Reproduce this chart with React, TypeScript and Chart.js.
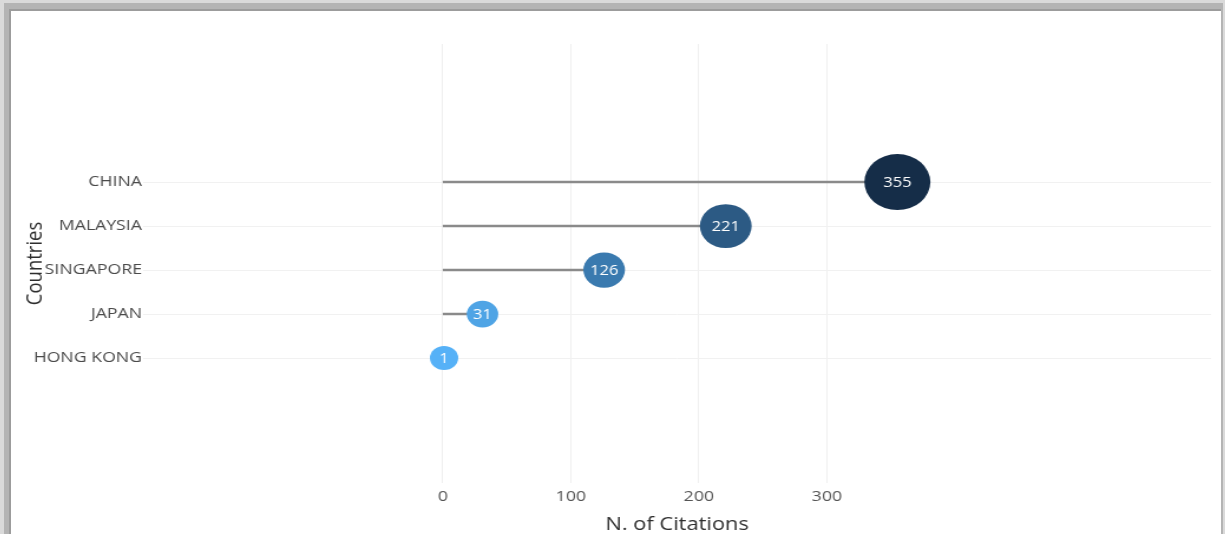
import React, { useEffect, useRef } from "react";
import { Chart, registerables } from "chart.js";

Chart.register(...registerables);

// ---- data ----
const COUNTRIES = ["HONG KONG", "JAPAN", "SINGAPORE", "MALAYSIA", "CHINA"];
const CITATIONS = [1, 31, 126, 221, 355];
const X_TICKS = [0, 100, 200, 300];
const Y_TITLE = "Countries";
const X_TITLE = "N. of Citations";

// ---- styles ----
const BUBBLE_COLORS = ["#56B1F7", "#4FA4E5", "#3A7AAF", "#2C5A84", "#152D48"];
const STRETCH = 1.18;
const CANVAS_W = 1025;
const CANVAS_H = 523;
const FONT = "'Open Sans', 'DejaVu Sans', sans-serif";

const minV = Math.min(...CITATIONS);
const maxV = Math.max(...CITATIONS);
const radiusFor = (v: number) => 12 + (16 * (v - minV)) / (maxV - minV);

const labelPlugin = {
  id: "bubbleLabels",
  afterDatasetsDraw(chart: any) {
    const meta = chart.getDatasetMeta(0);
    const ctx = chart.ctx;
    ctx.save();
    ctx.fillStyle = "#ffffff";
    ctx.font = `14px ${FONT}`;
    ctx.textAlign = "center";
    ctx.textBaseline = "middle";
    meta.data.forEach((el: any, i: number) => {
      ctx.fillText(String(CITATIONS[i]), el.x, el.y + 0.5);
    });
    ctx.restore();
  },
};

function LollipopChart() {
  const ref = useRef<HTMLCanvasElement | null>(null);
  useEffect(() => {
    if (!ref.current) return;
    const segments = CITATIONS.map((v, i) => ({
      type: "scatter" as const,
      data: [
        { x: 0, y: i },
        { x: v, y: i },
      ],
      showLine: true,
      borderColor: "#8a8a8a",
      borderWidth: 2.5,
      pointRadius: 0,
      pointHoverRadius: 0,
    }));
    const chart = new Chart(ref.current, {
      type: "scatter",
      data: {
        datasets: [
          {
            data: CITATIONS.map((v, i) => ({ x: v, y: i })),
            pointRadius: CITATIONS.map(radiusFor),
            pointHoverRadius: CITATIONS.map(radiusFor),
            backgroundColor: BUBBLE_COLORS,
            borderWidth: 0,
            pointBorderWidth: 0,
          } as any,
          ...segments,
        ],
      },
      options: {
        animation: false,
        responsive: false,
        maintainAspectRatio: false,
        events: [],
        layout: {
          autoPadding: false,
          padding: { top: 33, right: 8, left: 0, bottom: 0 },
        },
        plugins: {
          legend: { display: false },
          tooltip: { enabled: false },
        },
        scales: {
          x: {
            type: "linear",
            min: -234,
            max: 600,
            afterBuildTicks: (scale: any) => {
              scale.ticks = X_TICKS.map((value) => ({ value }));
            },
            afterFit: (scale: any) => {
              scale.height = 51;
              scale.paddingLeft = 0;
              scale.paddingRight = 0;
            },
            grid: { color: "#efefef", lineWidth: 1, drawTicks: false },
            border: { display: false },
            ticks: {
              padding: 5,
              color: "#555555",
              font: { family: FONT, size: 15 },
              callback: (v: any) => String(v),
            },
            title: {
              display: true,
              text: X_TITLE,
              color: "#2e2e2e",
              font: { family: FONT, size: 18.5, lineHeight: 1 },
              padding: { top: 0, bottom: 0 },
            },
          },
          y: {
            type: "linear",
            min: -2.84,
            max: 7.14,
            afterBuildTicks: (scale: any) => {
              scale.ticks = COUNTRIES.map((_, i) => ({ value: i }));
            },
            afterFit: (scale: any) => {
              scale.width = 112;
              scale.paddingTop = 0;
              scale.paddingBottom = 0;
            },
            grid: { color: "#f1f1f1", lineWidth: 1, drawTicks: false },
            border: { display: false },
            ticks: {
              padding: 1,
              color: "#4a4a4a",
              font: { family: FONT, size: 15 },
              callback: (v: any) => COUNTRIES[v as number] ?? "",
            },
            title: {
              display: true,
              text: Y_TITLE,
              color: "#2e2e2e",
              font: { family: FONT, size: 18.5, lineHeight: 1 },
              padding: { top: 11, bottom: 0 },
            },
          },
        },
      },
      plugins: [labelPlugin],
    } as any);
    return () => chart.destroy();
  }, []);

  return (
    <div
      style={{
        position: "absolute",
        left: 0,
        top: 0,
        width: CANVAS_W,
        height: CANVAS_H,
        transform: `scaleX(${STRETCH})`,
        transformOrigin: "0 0",
      }}
    >
      <canvas
        ref={ref}
        width={CANVAS_W}
        height={CANVAS_H}
        style={{ display: "block", width: CANVAS_W, height: CANVAS_H }}
      />
    </div>
  );
}

export default function App() {
  return (
    <div
      style={{
        position: "fixed",
        left: 0,
        top: 0,
        width: 1225,
        height: 534,
        background: "#dadada",
        overflow: "hidden",
      }}
    >
      <div
        style={{
          position: "absolute",
          left: 4,
          top: 3,
          width: 1219,
          height: 540,
          background: "#b4b4b4",
        }}
      />
      <div
        style={{
          position: "absolute",
          left: 9,
          top: 9,
          width: 1212,
          height: 540,
          background: "#ffffff",
          borderLeft: "2px solid #9c9c9c",
          borderTop: "2px solid #9c9c9c",
          boxSizing: "border-box",
        }}
      />
      <div
        style={{
          position: "absolute",
          left: 11,
          top: 11,
          width: 1210,
          height: 523,
          overflow: "hidden",
        }}
      >
        <LollipopChart />
      </div>
    </div>
  );
}
